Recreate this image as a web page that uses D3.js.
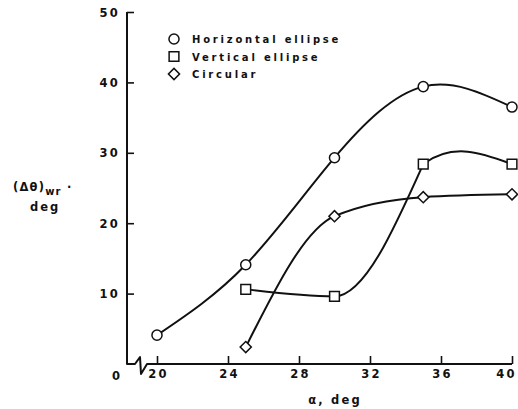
<!DOCTYPE html>
<html>
<head>
<meta charset="utf-8">
<script src="https://d3js.org/d3.v7.min.js"></script>
<style>
  body { margin: 0; background: #fff; }
  svg text { font-family: "DejaVu Sans", "Liberation Sans", Arial, sans-serif; font-weight: bold; fill: #111; }
</style>
</head>
<body>
<div id="chart"></div>
<script>
// values
const xTicks = [20, 24, 28, 32, 36, 40];
const yTicks = [10, 20, 30, 40, 50];

const horizAlpha = [20, 25, 30, 35, 40];
const horizVals = [4.1, 14.1, 29.3, 39.4, 36.5];

const vertAlpha = [25, 30, 35, 40];
const vertVals = [10.6, 9.6, 28.4, 28.4];

const circAlpha = [25, 30, 35, 40];
const circVals = [2.4, 21.0, 23.7, 24.1];

const legendNames = ["Horizontal ellipse", "Vertical ellipse", "Circular"];

const width = 518, height = 409;

const svg = d3.select("#chart").append("svg")
    .attr("width", width)
    .attr("height", height);

const x = d3.scaleLinear().domain([20, 40]).range([157, 512]);
const y = d3.scaleLinear().domain([0, 50]).range([364, 12]);

const x0 = 127; // where the y axis sits

// axes (ticks only, own axis lines drawn with the break)
const xAxis = svg.append("g")
    .attr("transform", "translate(0," + y(0) + ")")
    .call(d3.axisBottom(x).tickValues(xTicks).tickSizeInner(-8).tickSizeOuter(0).tickPadding(6));
xAxis.select(".domain").remove();
xAxis.selectAll("line").attr("stroke", "#111").attr("stroke-width", 1.6);
xAxis.selectAll("text")
    .style("font-size", "11.5px")
    .style("letter-spacing", "2.2px")
    .attr("dx", d => d === 40 ? "-6px" : "1px");

const yAxis = svg.append("g")
    .attr("transform", "translate(" + x0 + ",0)")
    .call(d3.axisLeft(y).tickValues(yTicks).tickSizeInner(-7).tickSizeOuter(0).tickPadding(7));
yAxis.select(".domain").remove();
yAxis.selectAll("line").attr("stroke", "#111").attr("stroke-width", 1.6);
yAxis.selectAll("text")
    .style("font-size", "11.5px")
    .style("letter-spacing", "2.2px")
    .attr("dy", "0.36em");

// the zero sits down by the x labels because of the break
svg.append("text")
    .attr("x", 120)
    .attr("y", y(0) + 16)
    .attr("text-anchor", "end")
    .style("font-size", "11.5px")
    .text("0");

// axis lines with the break mark
const axisPath = d3.path();
axisPath.moveTo(x0, y(50));
axisPath.lineTo(x0, y(0));
axisPath.lineTo(x0 + 8, y(0));
axisPath.lineTo(x0 + 13, y(0) - 7);
axisPath.lineTo(x0 + 14, y(0) + 10);
axisPath.lineTo(x0 + 20, y(0));
axisPath.lineTo(x(40), y(0));
svg.append("path")
    .attr("d", axisPath.toString())
    .attr("fill", "none")
    .attr("stroke", "#111")
    .attr("stroke-width", 2)
    .attr("stroke-linejoin", "round");

// axis titles
const yTitle = svg.append("text")
    .attr("x", 13)
    .attr("y", 191)
    .style("font-size", "11.5px")
    .style("letter-spacing", "1.2px");
yTitle.append("tspan").text("(Δθ)");
yTitle.append("tspan").attr("dy", 4).style("font-size", "10px").text("wr");
yTitle.append("tspan").attr("dy", -4).text(" ·");

svg.append("text")
    .attr("x", 30)
    .attr("y", 211)
    .style("font-size", "11.5px")
    .style("letter-spacing", "2px")
    .text("deg");

svg.append("text")
    .attr("x", 335)
    .attr("y", 404)
    .attr("text-anchor", "middle")
    .style("font-size", "11.5px")
    .style("letter-spacing", "2.2px")
    .text("α, deg");

// series
const horiz = horizAlpha.map((a, i) => ({a: a, v: horizVals[i]}));
const vert = vertAlpha.map((a, i) => ({a: a, v: vertVals[i]}));
const circ = circAlpha.map((a, i) => ({a: a, v: circVals[i]}));

function lineFor(curve) {
  return d3.line().x(d => x(d.a)).y(d => y(d.v)).curve(curve);
}

function drawLine(data, curve, clip) {
  const p = svg.append("path").datum(data)
    .attr("d", lineFor(curve))
    .attr("fill", "none").attr("stroke", "#111").attr("stroke-width", 2);
  if (clip) p.attr("clip-path", clip);
}

drawLine(horiz, d3.curveNatural);
drawLine(circ, d3.curveMonotoneX);

// vertical ellipse: flat then a steep rise up to 35, then a faired hump over to 40
const defs = svg.append("defs");
defs.append("clipPath").attr("id", "afterPeak")
  .append("rect")
    .attr("x", x(35)).attr("y", 0)
    .attr("width", width - x(35)).attr("height", height);
drawLine(vert.slice(0, 3), d3.curveMonotoneX);
drawLine(vert.slice(1), d3.curveNatural, "url(#afterPeak)");

const circleSym = d3.symbol().type(d3.symbolCircle).size(80);
const squareSym = d3.symbol().type(d3.symbolSquare).size(95);
const diamondSym = d3.symbol().type(d3.symbolSquare).size(62);

function drawMarks(data, sym, rot) {
  svg.append("g").selectAll("path")
    .data(data)
    .join("path")
      .attr("transform", d => "translate(" + x(d.a) + "," + y(d.v) + ") rotate(" + (rot || 0) + ")")
      .attr("d", sym)
      .attr("fill", "#fff")
      .attr("stroke", "#111")
      .attr("stroke-width", 1.5);
}
drawMarks(horiz, circleSym);
drawMarks(vert, squareSym);
drawMarks(circ, diamondSym, 45);

// legend
const legend = svg.append("g");
const legendSyms = [circleSym, squareSym, diamondSym];
const legendRot = [0, 0, 45];
legendNames.forEach(function(name, i) {
  const ly = 39 + i * 17.5;
  legend.append("path")
    .attr("transform", "translate(174," + ly + ") rotate(" + legendRot[i] + ")")
    .attr("d", legendSyms[i])
    .attr("fill", "#fff")
    .attr("stroke", "#111")
    .attr("stroke-width", 1.5);
  legend.append("text")
    .attr("x", 192)
    .attr("y", ly + 4)
    .style("font-size", "10px")
    .style("letter-spacing", "2.8px")
    .text(name);
});
</script>
</body>
</html>
